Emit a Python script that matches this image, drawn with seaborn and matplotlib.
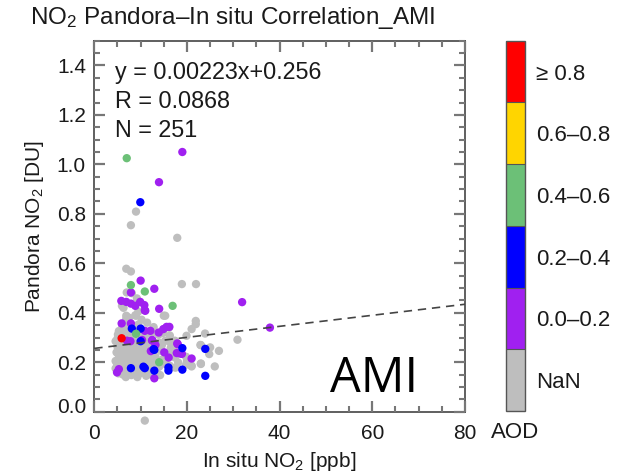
import numpy as np
import pandas as pd
import matplotlib
matplotlib.use("Agg")
import matplotlib.pyplot as plt
import matplotlib.transforms as mtransforms
from matplotlib.colors import ListedColormap, BoundaryNorm
from matplotlib.ticker import MultipleLocator
import seaborn as sns

# ---------------- data ----------------
# AOD bins (colour classes) and their labels
aod_bins = ["NaN", "0.0\u20130.2", "0.2\u20130.4", "0.4\u20130.6", "0.6\u20130.8", "\u2265 0.8"]
aod_colors = ["#BEBEBE", "#A020F0", "#0000FF", "#6CC077", "#FFD500", "#FF0000"]

# In situ NO2 [ppb] / Pandora NO2 [DU] pairs per AOD bin
nan_x = [9.0, 7.9, 17.9, 6.9, 7.9, 18.9, 21.95, 10.9,
         8.1, 9.2, 7.0, 5.97, 6.3, 9.5,
         6.9, 6.9, 8.85, 9.0, 15.0, 15.3, 7.5, 10.2,
         6.9, 8.85, 9.5, 11.4, 6.0, 12.8, 15.0, 16.1, 21.9, 21.9, 21.0,
         5.3, 5.8, 6.0, 5.5, 7.0, 8.5, 11.8, 12.9, 13.9, 14.8, 16.3, 19.9, 23.9, 7.6, 10.2,
         5.0, 5.6, 8.0, 11.0, 13.9, 15.3, 16.0, 17.4, 4.6, 6.3, 9.2, 10.7, 14.6, 16.6, 30.9, 22.9, 23.0,
         6.8, 8.1, 9.6, 11.0, 5.0, 5.5, 7.4, 8.8, 10.4, 11.8, 13.8, 14.5, 16.5, 17.2, 25.0, 26.9, 4.8, 6.2, 9.6,
         5.3, 6.3, 7.0, 8.0, 9.0, 10.2, 11.7, 12.7, 13.2, 14.8, 16.3, 17.4, 18.1, 24.8, 23.0, 20.0, 5.9, 7.7,
         10.8, 12.2, 15.8, 19.8, 4.6,
         5.5, 6.5, 7.0, 8.5, 9.8, 11.5, 13.5, 10.9, 15.3, 16.3, 21.0, 21.0, 23.0, 26.0, 14.0, 12.0, 9.0, 4.6,
         17.5, 19.8,
         6.2, 6.8, 14.2, 8.0, 11.2, 5.2, 12.3, 9.3,
         5.1, 5.7, 6.4, 6.6, 7.2, 7.8, 8.3, 8.9, 9.7, 10.5,
         5.4, 6.0, 6.7, 7.3, 7.9, 8.4, 9.1, 9.9, 10.6, 11.3,
         5.2, 5.8, 6.5, 7.1, 7.6, 8.2, 8.7, 9.4, 10.0, 10.5,
         11.2, 11.9, 12.6, 13.3, 14.0, 15.2, 4.9, 5.9, 6.8, 7.6,
         8.3, 9.6, 10.3, 11.0, 12.4, 13.0, 6.0, 7.4, 8.9, 10.1]
nan_y = [0.809, 0.754, 0.703, 0.578, 0.567, 0.516, 0.516, -0.036,
         0.479, 0.458, 0.482, 0.428, 0.420, 0.405,
         0.388, 0.376, 0.390, 0.388, 0.388, 0.388, 0.380, 0.372,
         0.347, 0.334, 0.352, 0.360, 0.340, 0.342, 0.334, 0.340, 0.367, 0.354, 0.334,
         0.326, 0.320, 0.310, 0.300, 0.322, 0.318, 0.316, 0.322, 0.312, 0.318, 0.308, 0.307, 0.316, 0.305, 0.305,
         0.295, 0.280, 0.294, 0.280, 0.280, 0.287, 0.287, 0.287, 0.285, 0.272, 0.275, 0.296, 0.270, 0.275, 0.291, 0.270, 0.269,
         0.260, 0.267, 0.256, 0.240, 0.262, 0.248, 0.245, 0.242, 0.262, 0.262, 0.255, 0.245, 0.258, 0.250, 0.260, 0.246, 0.240, 0.235, 0.232,
         0.215, 0.205, 0.198, 0.205, 0.212, 0.198, 0.205, 0.190, 0.222, 0.212, 0.226, 0.219, 0.199, 0.233, 0.195, 0.205, 0.225, 0.230,
         0.222, 0.228, 0.232, 0.222, 0.205,
         0.185, 0.180, 0.165, 0.163, 0.155, 0.160, 0.157, 0.165, 0.193, 0.186, 0.186, 0.183, 0.193, 0.183, 0.182, 0.178, 0.188, 0.175,
         0.178, 0.190,
         0.150, 0.140, 0.148, 0.148, 0.145, 0.155, 0.150, 0.140,
         0.312, 0.305, 0.318, 0.296, 0.290, 0.312, 0.300, 0.282, 0.315, 0.320,
         0.268, 0.258, 0.250, 0.266, 0.255, 0.248, 0.262, 0.248, 0.252, 0.270,
         0.232, 0.212, 0.228, 0.218, 0.208, 0.225, 0.215, 0.225, 0.215, 0.208,
         0.215, 0.218, 0.208, 0.198, 0.205, 0.205, 0.195, 0.195, 0.190, 0.185,
         0.178, 0.175, 0.185, 0.195, 0.192, 0.172, 0.168, 0.155, 0.170, 0.165]

aod02_x = [19.0, 13.96, 10.0, 12.95, 7.9, 5.83, 6.9, 7.9, 8.85, 9.9, 10.8, 10.9, 14.0, 31.9, 37.9,
           5.9, 7.9, 15.6, 16.2, 14.9, 10.9, 12.1, 13.9, 7.8, 10.3, 12.5, 13.2, 17.9, 18.0, 12.2,
           15.1, 18.6, 18.9, 17.8, 21.0, 16.05, 4.9, 5.3, 12.95, 7.05, 12.45, 11.0]
aod02_y = [1.05, 0.928, 0.530, 0.497, 0.482, 0.448, 0.444, 0.437, 0.428, 0.444, 0.431, 0.410, 0.416, 0.443, 0.340,
           0.357, 0.357, 0.343, 0.343, 0.334, 0.327, 0.327, 0.320, 0.285, 0.290, 0.290, 0.270, 0.276, 0.273, 0.245,
           0.240, 0.235, 0.234, 0.237, 0.215, 0.219, 0.159, 0.172, 0.135, 0.287, 0.288, 0.408]

aod04_x = [9.93, 8.1, 10.0, 10.0, 12.95, 19.0, 23.95, 7.9, 10.6, 10.9, 12.95, 16.0, 16.0, 19.0, 23.95, 12.8]
aod04_y = [0.847, 0.336, 0.336, 0.285, 0.250, 0.257, 0.254, 0.176, 0.182, 0.176, 0.166, 0.179, 0.166, 0.170, 0.145, 0.253]

aod06_x = [7.0, 7.9, 10.9, 16.9, 9.0, 14.0]
aod06_y = [1.025, 0.512, 0.486, 0.428, 0.315, 0.200]

aod08_x = [7.3]
aod08_y = [0.186]

aodhi_x = [5.9]
aodhi_y = [0.297]

# linear fit statistics
fit_slope = 0.00223
fit_intercept = 0.256
fit_r = 0.0868
n_points = 251

x_ticks = [0, 20, 40, 60, 80]
y_ticks = [0.0, 0.2, 0.4, 0.6, 0.8, 1.0, 1.2, 1.4]

# ---------------- table (drawing order: first rows end up underneath) ----------------
frames = []
for name, xs, ys in [(aod_bins[4], aod08_x, aod08_y), (aod_bins[0], nan_x, nan_y),
                     (aod_bins[1], aod02_x, aod02_y), (aod_bins[2], aod04_x, aod04_y),
                     (aod_bins[3], aod06_x, aod06_y), (aod_bins[5], aodhi_x, aodhi_y)]:
    frames.append(pd.DataFrame({"insitu": xs, "pandora": ys, "aod": name}))
df = pd.concat(frames, ignore_index=True)

# ---------------- style ----------------
sns.set_theme(style="ticks", rc={
    "xtick.direction": "in", "ytick.direction": "in",
    "xtick.top": True, "xtick.bottom": True, "ytick.left": True, "ytick.right": True,
    "xtick.major.size": 8, "ytick.major.size": 8,
    "xtick.minor.size": 4, "ytick.minor.size": 4,
    "xtick.major.width": 1.6, "ytick.major.width": 1.6,
    "xtick.minor.width": 1.5, "ytick.minor.width": 1.5,
    "xtick.minor.visible": True, "ytick.minor.visible": True,
    "xtick.color": "#777777", "ytick.color": "#777777",
    "axes.edgecolor": "#444444", "axes.linewidth": 1.2,
})
plt.rcParams["font.family"] = ["Liberation Sans", "DejaVu Sans"]
plt.rcParams["mathtext.fontset"] = "custom"
plt.rcParams["mathtext.rm"] = "Liberation Sans"
plt.rcParams["mathtext.it"] = "Liberation Sans:italic"
plt.rcParams["mathtext.default"] = "regular"

W, H = 629, 474
fig = plt.figure(figsize=(W / 100, H / 100), dpi=100)
fig.patch.set_facecolor("white")

ax_l, ax_r, ax_t, ax_b = 94.3, 465.0, 40.7, 411.7
ax = fig.add_axes([ax_l / W, (H - ax_b) / H, (ax_r - ax_l) / W, (ax_b - ax_t) / H])

palette = dict(zip(aod_bins, aod_colors))
sns.scatterplot(data=df, x="insitu", y="pandora", hue="aod", palette=palette,
                hue_order=aod_bins, s=36, linewidth=0, edgecolor="none",
                legend=False, ax=ax, clip_on=False, zorder=3)

# fitted line across the x range
x_fit = np.array([x_ticks[0], x_ticks[-1]], dtype=float)
sns.lineplot(x=x_fit, y=fit_intercept + fit_slope * x_fit, ax=ax, color="#444444",
             linewidth=1.2, linestyle=(0, (5, 3.5)), zorder=4)

ax.set_xlim(0, 80)
ax.set_ylim(0, 1.5)
ax.set_xticks(x_ticks)
ax.set_yticks(y_ticks)
ax.set_xticklabels([str(v) for v in x_ticks])
ax.set_yticklabels([f"{v:.1f}" for v in y_ticks])
ax.xaxis.set_minor_locator(MultipleLocator(5))
ax.yaxis.set_minor_locator(MultipleLocator(0.05))
ax.tick_params(axis="both", which="major", labelsize=15, labelcolor="#1a1a1a")
ax.tick_params(axis="x", which="major", pad=9)
ax.tick_params(axis="y", which="major", pad=6)
ax.set_axisbelow(False)
for sp in ax.spines.values():
    sp.set_visible(True)

# lift the bottom y label clear of the x labels
off = mtransforms.ScaledTranslation(0, 6 / 100, fig.dpi_scale_trans)
ylabs = ax.get_yticklabels()
ylabs[0].set_transform(ylabs[0].get_transform() + off)

ax.set_xlabel(r"In situ NO$_2$ [ppb]", fontsize=15, color="#1a1a1a", labelpad=5)
ax.set_ylabel(r"Pandora NO$_2$ [DU]", fontsize=15, color="#1a1a1a", labelpad=8)

fig.text(232 / W, 1 - 18 / H, "NO$_2$ Pandora\u2013In situ Correlation_AMI",
         ha="center", va="center", fontsize=17.5, color="#1a1a1a")

stats = [f"y = {fit_slope:.5f}x+{fit_intercept:.3f}", f"R = {fit_r:.4f}", f"N = {n_points}"]
for i, line in enumerate(stats):
    ax.text(0.056, (ax_b - (79.5 + 28.7 * i)) / (ax_b - ax_t), line, transform=ax.transAxes,
            ha="left", va="baseline", fontsize=16.8, color="#1a1a1a")

ax.text((330.0 - ax_l) / (ax_r - ax_l), (ax_b - 391.7) / (ax_b - ax_t), "AMI",
        transform=ax.transAxes, ha="left", va="baseline", fontsize=35,
        family=["Open Sans", "DejaVu Sans"], color="black")

# ---------------- colour bar ----------------
cb_l, cb_r, cb_t, cb_b = 505.7, 525.0, 40.7, 411.0
cax = fig.add_axes([cb_l / W, (H - cb_b) / H, (cb_r - cb_l) / W, (cb_b - cb_t) / H])
cmap = ListedColormap(aod_colors)
norm = BoundaryNorm(np.arange(len(aod_bins) + 1), cmap.N)
cb = fig.colorbar(plt.cm.ScalarMappable(norm=norm, cmap=cmap), cax=cax,
                  ticks=np.arange(len(aod_bins)) + 0.5, drawedges=True)
cb.ax.set_yticklabels(aod_bins)
cb.ax.minorticks_off()
cb.ax.tick_params(which="both", length=0, left=False, right=False,
                  labelsize=16, labelcolor="#1a1a1a", pad=8)
cb.outline.set_edgecolor("#555555")
cb.outline.set_linewidth(1.0)
cb.dividers.set_color("#555555")
cb.dividers.set_linewidth(0.8)
fig.text(515 / W, 1 - 433 / H, "AOD", ha="center", va="center", fontsize=16, color="#1a1a1a")

fig.savefig("out.png", dpi=100, facecolor="white")
